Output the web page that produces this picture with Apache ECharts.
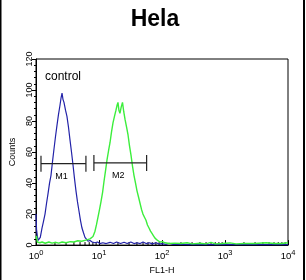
<!DOCTYPE html>
<html>
<head>
<meta charset="utf-8">
<script src="https://cdn.jsdelivr.net/npm/echarts@6/dist/echarts.min.js"></script>
<style>
html,body{margin:0;padding:0;background:#fff;}
#chart{width:306px;height:280px;}
</style>
</head>
<body>
<div id="chart"></div>
<script>
// ---- data ----
var chartTitle = 'Hela';
var xAxisName = 'FL1-H';
var yAxisName = 'Counts';
var xTickValues = [1, 10, 100, 1000, 10000];
var yTickValues = [0, 20, 40, 60, 80, 100, 120];

var controlX = [1.0, 1.02, 1.05, 1.08, 1.12, 1.17, 1.245, 1.31, 1.39, 1.47, 1.55, 1.64, 1.73, 1.83, 1.93, 2.04, 2.15, 2.27, 2.40, 2.5, 2.59, 2.68, 2.78, 2.94, 3.10, 3.28, 3.46, 3.66, 3.86, 4.08, 4.31, 4.55, 4.81, 5.08, 5.37, 5.67, 5.99, 6.3, 6.68, 7.2, 7.8, 8.6, 9.5, 10.3, 11.5, 13, 15, 17, 19, 22, 25, 28, 32, 36, 40, 45, 50, 56, 63, 70, 80, 90, 100, 115, 130, 150, 200, 300, 500, 1000, 3000, 10000];
var controlY = [20, 10, 6, 3, 2.5, 5, 11, 15, 20, 27, 33, 40, 45, 54, 62, 70, 77, 84, 90, 95, 98, 94, 92, 87, 83, 76, 68, 60, 52, 43, 35, 28, 22, 16, 11, 8, 5, 4, 2.5, 3, 2, 1.5, 2, 1, 1.5, 1, 1.8, 1, 2, 1, 1.8, 1, 2, 1, 1.5, 1, 2, 1, 1.5, 0.8, 1.5, 0.7, 1, 0.5, 1.2, 0.4, 0.5, 0.3, 0.3, 0.3, 0.3, 0.3];

var sampleX = [1.0, 1.02, 1.05, 1.1, 1.15, 1.25, 1.4, 1.6, 1.8, 2.0, 2.3, 2.6, 3.0, 3.5, 4.0, 4.6, 5.3, 6.2, 7.2, 8.03, 8.64, 9.1, 9.64, 10.2, 10.76, 11.4, 12.0, 12.7, 13.4, 14.2, 14.95, 15.8, 16.7, 17.6, 18.6, 19.3, 20.0, 20.7, 21.5, 22.5, 23.6, 24.7, 25.9, 27.4, 28.9, 30.5, 32.2, 34, 35.9, 38, 40.1, 42.4, 44.8, 47.3, 49.9, 52.7, 55.7, 58.8, 62.2, 65.7, 69.4, 73.3, 77.4, 85, 93, 102, 111.6, 130, 160, 200, 250, 300, 400, 500, 600, 700, 900, 1200, 1500, 2000, 3000, 4500, 6000, 8000, 10000];
var sampleY = [4, 6, 2, 3, 1.5, 2, 1.2, 2, 1.3, 1.8, 1.3, 2, 1.5, 2.2, 2, 2.8, 2.5, 3.2, 4, 5.5, 9, 13, 18, 23, 28, 34, 41, 48, 55, 61, 66, 73, 79, 83, 87, 90, 92, 87, 85, 89, 92, 86, 81, 76, 71, 64, 58, 51, 45, 40, 35, 31, 27, 23, 20, 18, 16, 13, 11, 9, 7.5, 6, 4.5, 3, 2, 2.2, 1.5, 1, 1.3, 1, 1.5, 0.8, 1.2, 0.8, 1.8, 0.8, 1, 1.4, 0.8, 1, 1, 1.5, 1, 1, 1.5];

var gateNames = ['M1', 'M2'];
var gateStart = [1.2, 8.3];
var gateEnd = [6.2, 57];
var gateLevel = [52.5, 53];

var controlLabel = 'control';

// ---- build ----
function pairs(xs, ys) { return xs.map(function (x, i) { return [x, ys[i]]; }); }

var minorTickVals = [];
for (var k = 0; k < 4; k++) {
  for (var m = 2; m <= 9; m++) minorTickVals.push([m * Math.pow(10, k), 0]);
}

var FONT = '"Liberation Sans", Arial, sans-serif';
var chart = echarts.init(document.getElementById('chart'));

chart.setOption({
  animation: false,
  backgroundColor: '#fff',
  title: {
    text: chartTitle,
    left: 150, top: 3, textAlign: 'center',
    textStyle: { fontFamily: FONT, fontSize: 23, fontWeight: 'bold', color: '#000' }
  },
  grid: { left: 36, right: 18, top: 59, bottom: 30, show: true, borderColor: '#000', borderWidth: 1, backgroundColor: 'transparent' },
  xAxis: {
    type: 'log', logBase: 10, min: 1, max: 10000,
    name: xAxisName, nameLocation: 'middle', nameGap: 19,
    nameTextStyle: { fontFamily: FONT, fontSize: 9, color: '#000' },
    axisLine: { lineStyle: { color: '#000', width: 1 } },
    axisTick: { inside: true, length: 5, lineStyle: { color: '#000' } },
    splitLine: { show: false },
    axisLabel: {
      margin: 4,
      formatter: function (v) {
        var e = Math.round(Math.log(v) / Math.LN10);
        return '{b|10}{s|' + e + '}';
      },
      rich: {
        b: { fontFamily: FONT, fontSize: 9.5, color: '#000' },
        s: { fontFamily: FONT, fontSize: 7.5, color: '#000', padding: [0, 0, 6, 0] }
      }
    }
  },
  yAxis: {
    type: 'value', min: 0, max: 120, interval: 20,
    name: yAxisName, nameLocation: 'middle', nameGap: 15, nameRotate: 90,
    nameTextStyle: { fontFamily: FONT, fontSize: 9, color: '#000' },
    axisLine: { show: true, lineStyle: { color: '#000', width: 1 } },
    axisTick: { show: true, length: 4, lineStyle: { color: '#000' } },
    minorTick: { show: true, splitNumber: 5, length: 2, lineStyle: { color: '#000' } },
    splitLine: { show: false },
    axisLabel: { rotate: 90, margin: 2, fontFamily: FONT, fontSize: 9, color: '#000' }
  },
  series: [
    {
      type: 'custom', silent: true, z: 3,
      data: minorTickVals,
      renderItem: function (params, api) {
        var p = api.coord([api.value(0), 0]);
        var y0 = params.coordSys.y + params.coordSys.height;
        return { type: 'line', shape: { x1: p[0], y1: y0, x2: p[0], y2: y0 - 3 }, style: { stroke: '#000', lineWidth: 1 } };
      }
    },
    {
      type: 'line', data: pairs(controlX, controlY), showSymbol: false, symbol: 'none',
      lineStyle: { color: '#2222a8', width: 1.2 }, z: 4
    },
    {
      type: 'line', data: pairs(sampleX, sampleY), showSymbol: false, symbol: 'none',
      lineStyle: { color: '#3cee3c', width: 1.4 }, z: 5
    },
    {
      type: 'custom', silent: true, z: 6,
      data: gateNames.map(function (n, i) { return [gateStart[i], gateEnd[i], gateLevel[i], i]; }),
      renderItem: function (params, api) {
        var a = api.coord([api.value(0), api.value(2)]);
        var b = api.coord([api.value(1), api.value(2)]);
        var name = gateNames[api.value(3)];
        var st = { stroke: '#222', lineWidth: 1.2 };
        return {
          type: 'group', children: [
            { type: 'line', shape: { x1: a[0], y1: a[1], x2: b[0], y2: b[1] }, style: st },
            { type: 'line', shape: { x1: a[0], y1: a[1] - 8, x2: a[0], y2: a[1] + 8 }, style: st },
            { type: 'line', shape: { x1: b[0], y1: b[1] - 8, x2: b[0], y2: b[1] + 8 }, style: st },
            { type: 'text', style: { text: name, x: (a[0] + b[0]) / 2 - 2, y: a[1] + 13, textAlign: 'center', textVerticalAlign: 'middle', font: '9px ' + FONT, fill: '#000' } }
          ]
        };
      }
    }
  ],
  graphic: [
    { type: 'text', left: 45, top: 71, style: { text: controlLabel, font: '12px ' + FONT, fill: '#000' } },
    { type: 'rect', shape: { x: 0, y: 0, width: 1.5, height: 280 }, style: { fill: '#000' } },
    { type: 'rect', shape: { x: 303, y: 0, width: 2, height: 280 }, style: { fill: '#000' } }
  ]
});
</script>
</body>
</html>
